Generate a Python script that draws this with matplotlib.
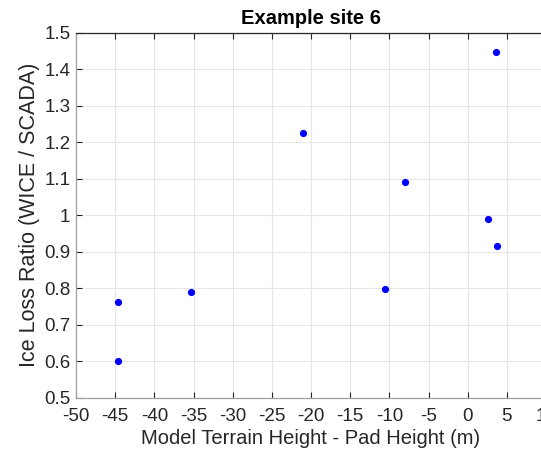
import matplotlib
matplotlib.use("Agg")
import matplotlib.pyplot as plt

plt.rcParams["font.family"] = ["Liberation Sans", "DejaVu Sans"]

# data
height_diff = [-44.7, -44.7, -35.3, -21.0, -10.5, -8.0, 2.6, 3.7, 3.6]
loss_ratio = [0.764, 0.602, 0.790, 1.225, 0.798, 1.090, 0.990, 0.915, 1.448]

x_ticks = list(range(-50, 11, 5))
y_ticks = [0.5, 0.6, 0.7, 0.8, 0.9, 1.0, 1.1, 1.2, 1.3, 1.4, 1.5]
y_labels = ["0.5", "0.6", "0.7", "0.8", "0.9", "1", "1.1", "1.2", "1.3", "1.4", "1.5"]

fig = plt.figure(figsize=(5.41, 4.51), dpi=100)
# axes runs past the right edge, like the cropped original
ax = fig.add_axes([76 / 541, 1 - 398 / 451, 470 / 541, 365.5 / 451])

ax.plot(height_diff, loss_ratio, "o", color="#0000ff", markersize=5.2, markeredgewidth=0)

ax.set_xlim(-50, 10)
ax.set_ylim(0.5, 1.5)
ax.set_xticks(x_ticks)
ax.set_xticklabels([str(t) for t in x_ticks])  # plain hyphen, like MATLAB
ax.set_yticks(y_ticks)
ax.set_yticklabels(y_labels)

ax.grid(True, color="#e6e6e6", linewidth=0.8)
ax.set_axisbelow(True)
ax.tick_params(direction="in", length=4, width=0.8, labelsize=13.5, colors="#262626",
               top=True, right=False)
ax.tick_params(axis="x", pad=7)
ax.tick_params(axis="y", pad=4)
for side in ["left", "bottom"]:
    ax.spines[side].set_color("#a0a0a0")
ax.spines["top"].set_color("#262626")
ax.spines["right"].set_visible(False)
for s in ax.spines.values():
    s.set_linewidth(0.9)

ax.set_xlabel("Model Terrain Height - Pad Height (m)", fontsize=14.5, color="#262626", labelpad=3)
ax.set_ylabel("Ice Loss Ratio (WICE / SCADA)", fontsize=15.5, color="#262626", labelpad=3)
ax.set_title("Example site 6", fontsize=14.5, fontweight="bold", pad=6)

fig.savefig("out.png", dpi=100)
